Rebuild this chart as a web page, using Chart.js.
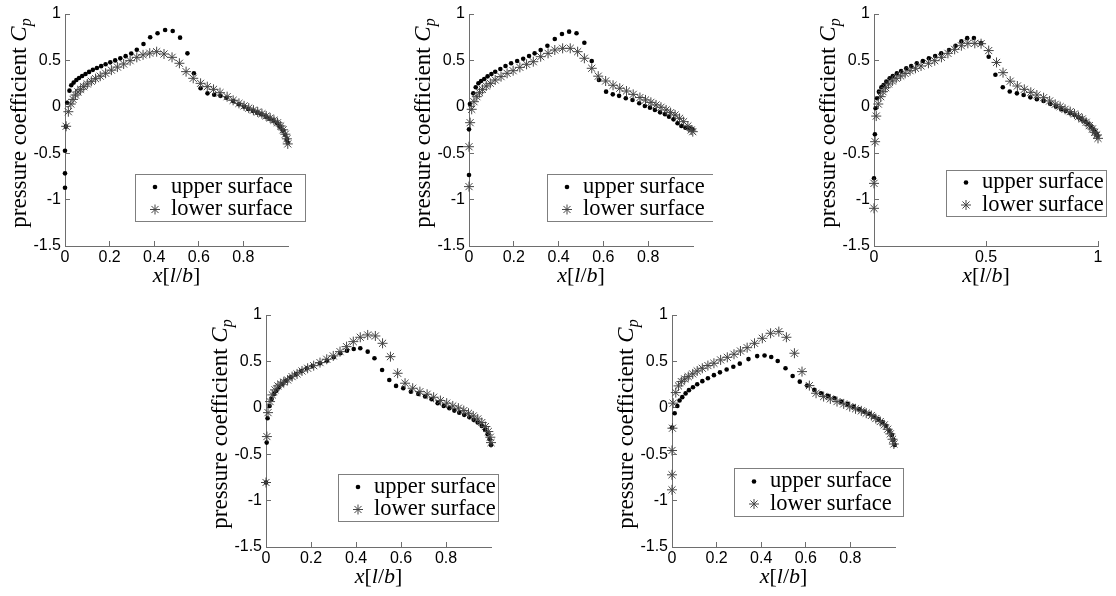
<!DOCTYPE html>
<html lang="en">
<head>
<meta charset="UTF-8">
<title>Pressure coefficient distributions</title>
<script src="https://cdn.jsdelivr.net/npm/chart.js"></script>
<style>
  html, body { margin: 0; padding: 0; background: #fff; }
  body { width: 1116px; height: 596px; position: relative; overflow: hidden; }
  .panel { position: absolute; }
  .panel canvas { display: block; }
</style>
</head>
<body>
<script>
// axis ticks
const yTicks = [-1.5, -1, -0.5, 0, 0.5, 1];
const yTickLabels = ['-1.5', '-1', '-0.5', '0', '0.5', '1'];
const xTicksFine = [0, 0.2, 0.4, 0.6, 0.8];
const xTickLabelsFine = ['0', '0.2', '0.4', '0.6', '0.8'];
const xTicksCoarse = [0, 0.5, 1];
const xTickLabelsCoarse = ['0', '0.5', '1'];
const seriesNames = ['upper surface', 'lower surface'];

// panel 1 (top left)
const p1UpperX = [0, 0, 0, 0.004, 0.010, 0.020, 0.028, 0.039, 0.051, 0.063, 0.077, 0.092, 0.108, 0.125, 0.143, 0.162, 0.182, 0.203, 0.225, 0.248, 0.272, 0.297, 0.322, 0.352, 0.382, 0.415, 0.449, 0.483, 0.516, 0.549, 0.578, 0.608, 0.639, 0.669, 0.697, 0.724, 0.754, 0.780, 0.803, 0.822, 0.843, 0.862, 0.880, 0.900, 0.917, 0.935, 0.952, 0.965, 0.977, 0.987, 0.995, 0.999];
const p1UpperCp = [-0.872, -0.717, -0.473, -0.214, 0.044, 0.174, 0.232, 0.261, 0.289, 0.311, 0.332, 0.354, 0.376, 0.398, 0.418, 0.438, 0.458, 0.479, 0.500, 0.522, 0.546, 0.575, 0.615, 0.677, 0.749, 0.792, 0.828, 0.817, 0.745, 0.576, 0.361, 0.200, 0.145, 0.130, 0.118, 0.098, 0.063, 0.027, 0.001, -0.024, -0.045, -0.063, -0.081, -0.106, -0.128, -0.149, -0.178, -0.214, -0.257, -0.304, -0.350, -0.387];
const p1LowerX = [0.005, 0.015, 0.026, 0.036, 0.047, 0.058, 0.070, 0.084, 0.100, 0.118, 0.137, 0.158, 0.182, 0.208, 0.235, 0.263, 0.292, 0.322, 0.350, 0.380, 0.411, 0.444, 0.480, 0.513, 0.543, 0.575, 0.608, 0.638, 0.666, 0.695, 0.727, 0.754, 0.780, 0.803, 0.824, 0.845, 0.864, 0.883, 0.902, 0.920, 0.937, 0.953, 0.967, 0.978, 0.988, 0.995, 0.999];
const p1LowerCp = [-0.210, -0.053, 0.030, 0.080, 0.127, 0.160, 0.188, 0.217, 0.246, 0.275, 0.303, 0.330, 0.362, 0.395, 0.428, 0.461, 0.497, 0.533, 0.560, 0.578, 0.594, 0.569, 0.533, 0.469, 0.379, 0.307, 0.253, 0.217, 0.188, 0.152, 0.109, 0.070, 0.037, 0.010, -0.014, -0.036, -0.056, -0.075, -0.099, -0.121, -0.145, -0.172, -0.207, -0.248, -0.295, -0.345, -0.400];

// panel 2 (top middle)
const p2UpperX = [0, 0, 0.004, 0.019, 0.030, 0.042, 0.054, 0.068, 0.083, 0.100, 0.117, 0.140, 0.163, 0.188, 0.215, 0.242, 0.268, 0.293, 0.320, 0.350, 0.383, 0.415, 0.447, 0.480, 0.515, 0.548, 0.580, 0.612, 0.642, 0.670, 0.700, 0.730, 0.760, 0.785, 0.808, 0.830, 0.853, 0.875, 0.893, 0.913, 0.931, 0.948, 0.966, 0.984, 0.998];
const p2UpperCp = [-0.735, -0.243, 0.030, 0.145, 0.210, 0.253, 0.278, 0.300, 0.328, 0.353, 0.378, 0.407, 0.440, 0.469, 0.494, 0.518, 0.547, 0.576, 0.612, 0.658, 0.730, 0.784, 0.810, 0.792, 0.691, 0.494, 0.289, 0.163, 0.134, 0.118, 0.092, 0.074, 0.038, 0.009, -0.009, -0.034, -0.060, -0.081, -0.106, -0.135, -0.178, -0.207, -0.225, -0.232, -0.243];
const p2LowerX = [0, 0, 0.005, 0.012, 0.022, 0.035, 0.047, 0.060, 0.077, 0.095, 0.117, 0.143, 0.170, 0.197, 0.227, 0.257, 0.287, 0.320, 0.353, 0.383, 0.418, 0.452, 0.485, 0.515, 0.548, 0.577, 0.610, 0.643, 0.673, 0.703, 0.733, 0.763, 0.788, 0.812, 0.835, 0.857, 0.880, 0.900, 0.920, 0.940, 0.958, 0.977, 0.992, 0.999];
const p2LowerCp = [-0.860, -0.430, -0.171, -0.027, 0.055, 0.109, 0.152, 0.188, 0.224, 0.253, 0.289, 0.325, 0.361, 0.389, 0.425, 0.458, 0.486, 0.540, 0.576, 0.612, 0.630, 0.630, 0.594, 0.523, 0.415, 0.330, 0.278, 0.232, 0.200, 0.170, 0.134, 0.100, 0.074, 0.048, 0.020, -0.005, -0.034, -0.063, -0.088, -0.124, -0.160, -0.207, -0.250, -0.268];

// panel 3 (top right)
const p3UpperX = [0, 0.004, 0.007, 0.014, 0.022, 0.033, 0.043, 0.055, 0.070, 0.084, 0.102, 0.121, 0.144, 0.166, 0.191, 0.218, 0.245, 0.273, 0.300, 0.335, 0.364, 0.390, 0.416, 0.446, 0.478, 0.512, 0.542, 0.575, 0.606, 0.638, 0.668, 0.698, 0.727, 0.757, 0.787, 0.812, 0.836, 0.856, 0.876, 0.895, 0.913, 0.927, 0.944, 0.957, 0.969, 0.979, 0.988, 0.994, 0.998];
const p3UpperCp = [-0.770, -0.297, -0.016, 0.092, 0.163, 0.210, 0.235, 0.271, 0.307, 0.332, 0.360, 0.386, 0.415, 0.440, 0.469, 0.494, 0.523, 0.547, 0.576, 0.612, 0.658, 0.705, 0.740, 0.742, 0.686, 0.540, 0.345, 0.210, 0.165, 0.145, 0.127, 0.102, 0.081, 0.063, 0.031, 0.002, -0.027, -0.045, -0.070, -0.088, -0.113, -0.135, -0.160, -0.185, -0.214, -0.243, -0.272, -0.293, -0.315];
const p3LowerX = [0, 0, 0.005, 0.010, 0.019, 0.030, 0.040, 0.052, 0.065, 0.082, 0.099, 0.119, 0.139, 0.161, 0.185, 0.210, 0.243, 0.271, 0.301, 0.330, 0.360, 0.390, 0.419, 0.450, 0.478, 0.512, 0.547, 0.576, 0.608, 0.640, 0.671, 0.700, 0.727, 0.757, 0.784, 0.809, 0.831, 0.853, 0.876, 0.895, 0.913, 0.930, 0.947, 0.961, 0.975, 0.985, 0.994, 1.000];
const p3LowerCp = [-1.094, -0.825, -0.376, -0.100, 0.030, 0.109, 0.163, 0.206, 0.246, 0.278, 0.307, 0.332, 0.360, 0.389, 0.415, 0.440, 0.469, 0.497, 0.533, 0.576, 0.619, 0.658, 0.684, 0.684, 0.680, 0.606, 0.478, 0.368, 0.276, 0.224, 0.188, 0.156, 0.127, 0.098, 0.063, 0.027, 0.002, -0.027, -0.052, -0.077, -0.106, -0.131, -0.167, -0.203, -0.239, -0.275, -0.304, -0.340];

// panel 4 (bottom left)
const p4UpperX = [0, 0.003, 0.007, 0.016, 0.025, 0.036, 0.046, 0.058, 0.073, 0.090, 0.110, 0.133, 0.156, 0.181, 0.207, 0.240, 0.271, 0.301, 0.330, 0.360, 0.390, 0.419, 0.452, 0.482, 0.516, 0.548, 0.578, 0.610, 0.644, 0.677, 0.707, 0.736, 0.763, 0.790, 0.815, 0.837, 0.859, 0.881, 0.904, 0.923, 0.941, 0.959, 0.974, 0.985, 0.994, 1.000];
const p4UpperCp = [-0.805, -0.375, -0.112, 0.020, 0.096, 0.150, 0.185, 0.222, 0.257, 0.293, 0.329, 0.365, 0.397, 0.426, 0.451, 0.480, 0.508, 0.544, 0.588, 0.616, 0.634, 0.641, 0.605, 0.534, 0.408, 0.300, 0.236, 0.211, 0.174, 0.150, 0.121, 0.093, 0.050, 0.020, -0.004, -0.030, -0.052, -0.076, -0.101, -0.130, -0.159, -0.195, -0.238, -0.284, -0.338, -0.400];
const p4LowerX = [0, 0.004, 0.009, 0.018, 0.028, 0.040, 0.053, 0.065, 0.079, 0.096, 0.116, 0.138, 0.160, 0.185, 0.212, 0.240, 0.270, 0.299, 0.329, 0.358, 0.388, 0.419, 0.452, 0.486, 0.518, 0.553, 0.585, 0.618, 0.652, 0.684, 0.716, 0.745, 0.775, 0.803, 0.830, 0.855, 0.879, 0.900, 0.921, 0.941, 0.959, 0.975, 0.988, 0.997, 1.000];
const p4LowerCp = [-0.805, -0.310, -0.052, 0.067, 0.139, 0.193, 0.236, 0.255, 0.277, 0.300, 0.336, 0.365, 0.397, 0.426, 0.454, 0.487, 0.523, 0.559, 0.605, 0.659, 0.713, 0.760, 0.785, 0.774, 0.695, 0.551, 0.372, 0.265, 0.211, 0.174, 0.146, 0.114, 0.078, 0.050, 0.020, -0.004, -0.030, -0.059, -0.088, -0.120, -0.159, -0.202, -0.256, -0.317, -0.375];

// panel 5 (bottom right)
const p5UpperX = [0, 0.012, 0.024, 0.034, 0.046, 0.061, 0.076, 0.094, 0.113, 0.136, 0.161, 0.188, 0.215, 0.245, 0.275, 0.304, 0.343, 0.382, 0.415, 0.445, 0.474, 0.509, 0.541, 0.573, 0.606, 0.638, 0.668, 0.699, 0.729, 0.759, 0.788, 0.814, 0.840, 0.863, 0.886, 0.907, 0.926, 0.944, 0.960, 0.975, 0.986, 0.993, 0.998];
const p5UpperCp = [-0.213, -0.058, 0.020, 0.078, 0.115, 0.155, 0.190, 0.222, 0.253, 0.287, 0.318, 0.352, 0.382, 0.412, 0.443, 0.476, 0.525, 0.557, 0.563, 0.548, 0.505, 0.426, 0.343, 0.282, 0.239, 0.193, 0.157, 0.128, 0.103, 0.067, 0.042, 0.013, -0.015, -0.041, -0.066, -0.095, -0.123, -0.155, -0.195, -0.246, -0.292, -0.346, -0.400];
const p5LowerX = [0, 0, 0, 0.002, 0.005, 0.017, 0.029, 0.042, 0.057, 0.073, 0.093, 0.113, 0.136, 0.161, 0.188, 0.218, 0.248, 0.278, 0.307, 0.337, 0.370, 0.405, 0.442, 0.479, 0.513, 0.549, 0.583, 0.616, 0.646, 0.680, 0.710, 0.740, 0.770, 0.797, 0.823, 0.849, 0.871, 0.894, 0.914, 0.934, 0.952, 0.967, 0.979, 0.989, 0.995];
const p5LowerCp = [-0.884, -0.722, -0.460, -0.220, 0.050, 0.164, 0.236, 0.282, 0.311, 0.336, 0.365, 0.397, 0.426, 0.455, 0.480, 0.516, 0.544, 0.577, 0.612, 0.648, 0.695, 0.749, 0.803, 0.821, 0.760, 0.588, 0.390, 0.239, 0.157, 0.121, 0.096, 0.067, 0.042, 0.013, -0.011, -0.033, -0.058, -0.083, -0.116, -0.148, -0.184, -0.231, -0.281, -0.339, -0.390];

// axis titles, written as (text, style) pieces so the math parts can be italic
const yTitleParts = [['pressure coefficient ', ''], ['C', 'italic'], ['p', 'italic sub']];
const xTitleParts = [['x', 'italic'], ['[', ''], ['l', 'italic'], ['/', ''], ['b', 'italic'], [']', '']];

const SERIF = '"Liberation Serif", "Times New Roman", serif';
const SANS = '"Liberation Sans", Arial, sans-serif';
const AXIS_GRAY = '#6e6e6e';

// page layout of each subplot: plot-area left/top/width and legend box relative to the plot area
const panels = [
  { left: 65,  top: 14,  width: 223, ticks: xTicksFine,   labels: xTickLabelsFine,   upper: [p1UpperX, p1UpperCp], lower: [p1LowerX, p1LowerCp], legend: [70, 160, 170, 47] },
  { left: 469, top: 14,  width: 224, ticks: xTicksFine,   labels: xTickLabelsFine,   upper: [p2UpperX, p2UpperCp], lower: [p2LowerX, p2LowerCp], legend: [78, 160, 170, 47] },
  { left: 874, top: 14,  width: 224, ticks: xTicksCoarse, labels: xTickLabelsCoarse, upper: [p3UpperX, p3UpperCp], lower: [p3LowerX, p3LowerCp], legend: [72, 156, 160, 46] },
  { left: 266, top: 315, width: 225, ticks: xTicksFine,   labels: xTickLabelsFine,   upper: [p4UpperX, p4UpperCp], lower: [p4LowerX, p4LowerCp], legend: [72, 159, 160, 47] },
  { left: 672, top: 315, width: 223, ticks: xTicksFine,   labels: xTickLabelsFine,   upper: [p5UpperX, p5UpperCp], lower: [p5LowerX, p5LowerCp], legend: [62, 153, 169, 48] }
];

// the y scale reserves half a label + tick padding (~18.6px) above the plot, so the top pad is 19
const PAD_LEFT = 66, PAD_TOP = 19, PAD_RIGHT = 20, PLOT_H = 232, PAD_BOTTOM = 52;

function toPoints(xs, ys) {
    return xs.map((x, i) => ({ x: x, y: ys[i] }));
}

function drawRich(ctx, parts, cx, baseline, size) {
    const pieces = parts.map(([t, style]) => {
        const sub = style.indexOf('sub') >= 0;
        const sz = sub ? size * 0.7 : size;
        const font = (style.indexOf('italic') >= 0 ? 'italic ' : '') + sz + 'px ' + SERIF;
        ctx.font = font;
        return { t: t, font: font, sub: sub, w: ctx.measureText(t).width };
    });
    const total = pieces.reduce((s, p) => s + p.w, 0);
    let x = cx - total / 2;
    ctx.textAlign = 'left';
    ctx.textBaseline = 'alphabetic';
    pieces.forEach(p => {
        ctx.font = p.font;
        ctx.fillText(p.t, x, baseline + (p.sub ? size * 0.22 : 0));
        x += p.w;
    });
}

function drawStar(ctx, x, y, r) {
    ctx.beginPath();
    for (let k = 0; k < 4; k++) {
        const a = k * Math.PI / 4;
        ctx.moveTo(x - r * Math.cos(a), y - r * Math.sin(a));
        ctx.lineTo(x + r * Math.cos(a), y + r * Math.sin(a));
    }
    ctx.stroke();
}

// axis titles + boxed legend inside the axes, MATLAB style
const decorations = {
    id: 'decorations',
    afterDraw(chart, args, opts) {
        const ctx = chart.ctx;
        const a = chart.chartArea;
        ctx.save();
        ctx.fillStyle = '#000';

        // y title
        ctx.save();
        ctx.translate(a.left - 39, (a.top + a.bottom) / 2 - 7);
        ctx.rotate(-Math.PI / 2);
        drawRich(ctx, yTitleParts, 0, 0, 23);
        ctx.restore();

        // x title
        drawRich(ctx, xTitleParts, (a.left + a.right) / 2, a.bottom + 36, 22);

        // legend
        const [lx, ly, lw, lh] = opts.box;
        const bx = a.left + lx, by = a.top + ly;
        ctx.fillStyle = '#fff';
        ctx.fillRect(bx, by, lw, lh);
        ctx.strokeStyle = '#7f7f7f';
        ctx.lineWidth = 1;
        ctx.strokeRect(bx + 0.5, by + 0.5, lw, lh);

        const row1 = by + lh / 2 - 10.5, row2 = by + lh / 2 + 12;
        ctx.fillStyle = '#000';
        ctx.beginPath();
        ctx.arc(bx + 20, row1, 2.3, 0, Math.PI * 2);
        ctx.fill();
        ctx.strokeStyle = '#444';
        drawStar(ctx, bx + 20, row2, 5);

        ctx.font = '22.5px ' + SERIF;
        ctx.textAlign = 'left';
        ctx.textBaseline = 'middle';
        const names = chart.data.datasets.map(d => d.label);
        ctx.fillText(names[0], bx + 36, row1);
        ctx.fillText(names[1], bx + 36, row2);
        ctx.restore();
    }
};

panels.forEach(p => {
    const div = document.createElement('div');
    div.className = 'panel';
    div.style.left = (p.left - PAD_LEFT) + 'px';
    div.style.top = (p.top - PAD_TOP) + 'px';
    const canvas = document.createElement('canvas');
    canvas.width = PAD_LEFT + p.width + PAD_RIGHT;
    canvas.height = PAD_TOP + PLOT_H + PAD_BOTTOM;
    div.appendChild(canvas);
    document.body.appendChild(div);

    const axisCommon = {
        grid: { display: true, drawOnChartArea: false, drawTicks: true, tickLength: -5, color: AXIS_GRAY, lineWidth: 1 },
        border: { display: true, color: AXIS_GRAY, width: 1 }
    };

    new Chart(canvas.getContext('2d'), {
        type: 'scatter',
        data: {
            datasets: [{
                label: seriesNames[0],
                data: toPoints(p.upper[0], p.upper[1]),
                pointStyle: 'circle',
                pointRadius: 2.3,
                backgroundColor: '#000',
                borderColor: '#000',
                borderWidth: 0,
                clip: false,
                order: 1
            }, {
                label: seriesNames[1],
                data: toPoints(p.lower[0], p.lower[1]),
                pointStyle: 'star',
                pointRadius: 5,
                backgroundColor: '#444',
                borderColor: '#444',
                borderWidth: 1,
                clip: false,
                order: 0
            }]
        },
        options: {
            responsive: false,
            animation: false,
            devicePixelRatio: 1,
            layout: { padding: { left: 0, top: PAD_TOP, right: PAD_RIGHT, bottom: 0 } },
            plugins: {
                legend: { display: false },
                tooltip: { enabled: false },
                decorations: { box: p.legend }
            },
            scales: {
                x: Object.assign({}, axisCommon, {
                    type: 'linear',
                    min: 0,
                    max: 1,
                    afterBuildTicks: s => { s.ticks = p.ticks.map(v => ({ value: v })); },
                    afterFit: s => { s.height = PAD_BOTTOM; },
                    ticks: {
                        autoSkip: false,
                        maxRotation: 0,
                        padding: 7,
                        color: '#000',
                        font: { family: SANS, size: 16 },
                        callback: (v, i) => p.labels[i]
                    }
                }),
                y: Object.assign({}, axisCommon, {
                    min: -1.5,
                    max: 1,
                    afterBuildTicks: s => { s.ticks = yTicks.map(v => ({ value: v })); },
                    afterFit: s => { s.width = PAD_LEFT; },
                    ticks: {
                        autoSkip: false,
                        padding: 9,
                        color: '#000',
                        font: { family: SANS, size: 16 },
                        callback: (v, i) => yTickLabels[i]
                    }
                })
            }
        },
        plugins: [decorations]
    });
});
</script>
</body>
</html>
